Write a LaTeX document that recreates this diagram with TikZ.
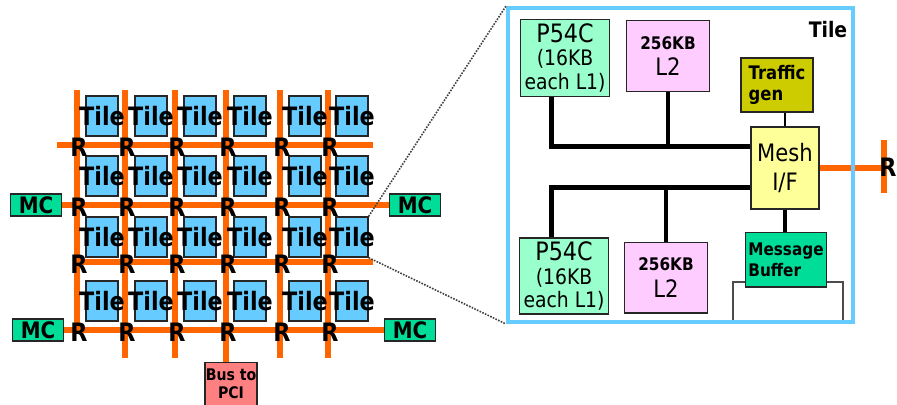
\documentclass[tikz,border=0pt]{standalone}
\usepackage{fontspec}
\setmainfont{DejaVu Sans}[FakeStretch=0.88]
\usepackage{xcolor}
\usepackage{tikz}
\usetikzlibrary{positioning,calc}

\definecolor{tileblue}{HTML}{66CCFF}
\definecolor{meshorange}{HTML}{FF6600}
\definecolor{mcgreen}{HTML}{00DD99}
\definecolor{pcired}{HTML}{FF8080}
\definecolor{cpugreen}{HTML}{99FFCC}
\definecolor{cachepink}{HTML}{FFCCFF}
\definecolor{trafficolive}{HTML}{CCCC00}
\definecolor{ifyellow}{HTML}{FFFF99}

\begin{document}
\begin{tikzpicture}[
  x=0.75pt, y=-0.75pt,
  tile/.style={draw=black!85, line width=1pt, fill=tileblue,
    minimum width=24pt, minimum height=30pt, inner sep=0pt},
  tilelbl/.style={font=\fontsize{19}{19}\selectfont\bfseries, inner sep=0pt},
  router/.style={font=\fontsize{19}{19}\selectfont\bfseries, inner sep=0pt},
  link/.style={meshorange, line width=4pt},
  mc/.style={draw=black!85, line width=1pt, fill=mcgreen, minimum width=38pt,
    minimum height=16.5pt, inner sep=0pt, font=\fontsize{17}{17}\selectfont\bfseries},
  unit/.style={draw=black!85, line width=1pt, inner sep=1pt, align=center},
  bus/.style={line width=3.75pt},
  stub/.style={line width=2.5pt},
  zoomline/.style={densely dotted, line width=1.2pt, black!75}
]
\useasboundingbox (0,0) rectangle (897,404);

% ---- mesh (left) ----
\foreach \x [count=\i] in {77,125,175,226,280,328} {
  \coordinate (top-\i) at (\x,90);
  \coordinate (bot-\i) at (\x,358);
  \foreach \y [count=\j] in {145,205,262,330}
    \coordinate (p-\i-\j) at (\x,\y);
}
\coordinate (w-1) at (57,145);
\coordinate (e-1) at (373,145);
\coordinate (e-3) at (373,262);

\node[mc] (mcw) at (36,205) {MC};
\node[mc] (mce) at (415,205) {MC};
\node[mc] (mcsw) at (38,330) {MC};
\node[mc] (mcse) at (410,330) {MC};
\node[draw=black!85, line width=1pt, fill=pcired, minimum width=39pt,
  minimum height=32pt, inner sep=0pt, align=center,
  font=\fontsize{12}{13.5}\selectfont\bfseries] (pci) at (231,384)
  {Bus to\\PCI};

\foreach \i in {2,3,5,6}
  \draw[link] (top-\i) -- (bot-\i);
\draw[link] (top-1) -- (p-1-4);
\draw[link] (top-4) -- (top-4 |- pci.north);

\draw[link] (w-1) -- (e-1);
\draw[link] (mcw) -- (mce);
\draw[link] (p-1-3) -- (e-3);
\draw[link] (mcsw) -- (mcse);

\foreach \x [count=\i] in {102,151,200,250,305,352}
  \foreach \y [count=\j] in {116,176,237,301}
    \node[tile, label={[tilelbl, name=tl-\i-\j]center:Tile}] (t-\i-\j)
      at (\x,\y) {};

\foreach \i in {1,...,6}
  \foreach \j in {1,...,4}
    \node[router] (r-\i-\j) at ($(p-\i-\j)+(2,2)$) {R};

% ---- tile detail (right) ----
\draw[black!70, line width=0.8pt] (733,321) |- (843,282) -- (843,321);

\node[unit, fill=cpugreen, minimum width=67pt, minimum height=58pt,
  font=\fontsize{16}{17.5}\selectfont] (cpu1) at (565,58)
  {{\fontsize{19}{19}\selectfont P54C}\\(16KB\\each L1)};
\node[unit, fill=cachepink, minimum width=62pt, minimum height=53pt,
  font=\fontsize{18}{20}\selectfont] (l2a) at (668,56)
  {{\fontsize{13}{13}\selectfont\bfseries 256KB}\\L2};
\node[unit, fill=trafficolive, minimum width=54pt, minimum height=40.5pt,
  align=left, font=\fontsize{14}{16}\selectfont\bfseries] (traffic)
  at (777,85) {Traffic\\gen};
\node[unit, fill=ifyellow, minimum width=51pt, minimum height=61.5pt,
  font=\fontsize{18}{22}\selectfont] (mesh) at (785,168) {Mesh\\I/F};
\node[unit, fill=mcgreen, minimum width=61pt, minimum height=41pt,
  align=left, font=\fontsize{13}{16}\selectfont\bfseries] (msgbuf)
  at (786,259.5) {Message\\Buffer};
\node[unit, fill=cpugreen, minimum width=67pt, minimum height=57pt,
  font=\fontsize{16}{17.5}\selectfont] (cpu2) at (564,276)
  {{\fontsize{19}{19}\selectfont P54C}\\(16KB\\each L1)};
\node[unit, fill=cachepink, minimum width=62pt, minimum height=53pt,
  font=\fontsize{18}{20}\selectfont] (l2b) at (666,277.5)
  {{\fontsize{13}{13}\selectfont\bfseries 256KB}\\L2};

\coordinate (bus1) at (551,146);
\coordinate (bus2) at (551,187);
\draw[bus] (cpu1.south -| bus1) |- (bus1 -| mesh.west);
\draw[stub] (l2a.south) -- (l2a.south |- bus1);
\draw[bus] (cpu2.north -| bus1) |- (bus2 -| mesh.west);
\draw[stub] (l2b.north) -- (l2b.north |- bus2);
\draw[line width=1pt] (mesh.north) -- (mesh.north |- traffic.south);
\draw[line width=3pt] (mesh.south) -- (mesh.south |- msgbuf.north);

% link out to the router
\coordinate (rx) at (884,165);
\coordinate (rx-top) at (884,140);
\coordinate (rx-bot) at (884,193);
\draw[link] (mesh.east) -- (mesh.east -| rx);
\draw[link] (rx-top) -- (rx-bot);
\node[router] (r-ext) at (888,167) {R};

\node[draw=tileblue, line width=3pt, minimum width=258.75pt,
  minimum height=235.5pt, inner sep=0pt] (panel) at (680.5,165) {};
\node[font=\fontsize{16}{16}\selectfont\bfseries, inner sep=0pt]
  (paneltitle) at (828,30) {Tile};

% ---- zoom lines ----
\draw[zoomline] (t-6-3.north east) -- (panel.north west);
\draw[zoomline] (t-6-3.south east) -- (panel.south west);
\end{tikzpicture}
\end{document}
